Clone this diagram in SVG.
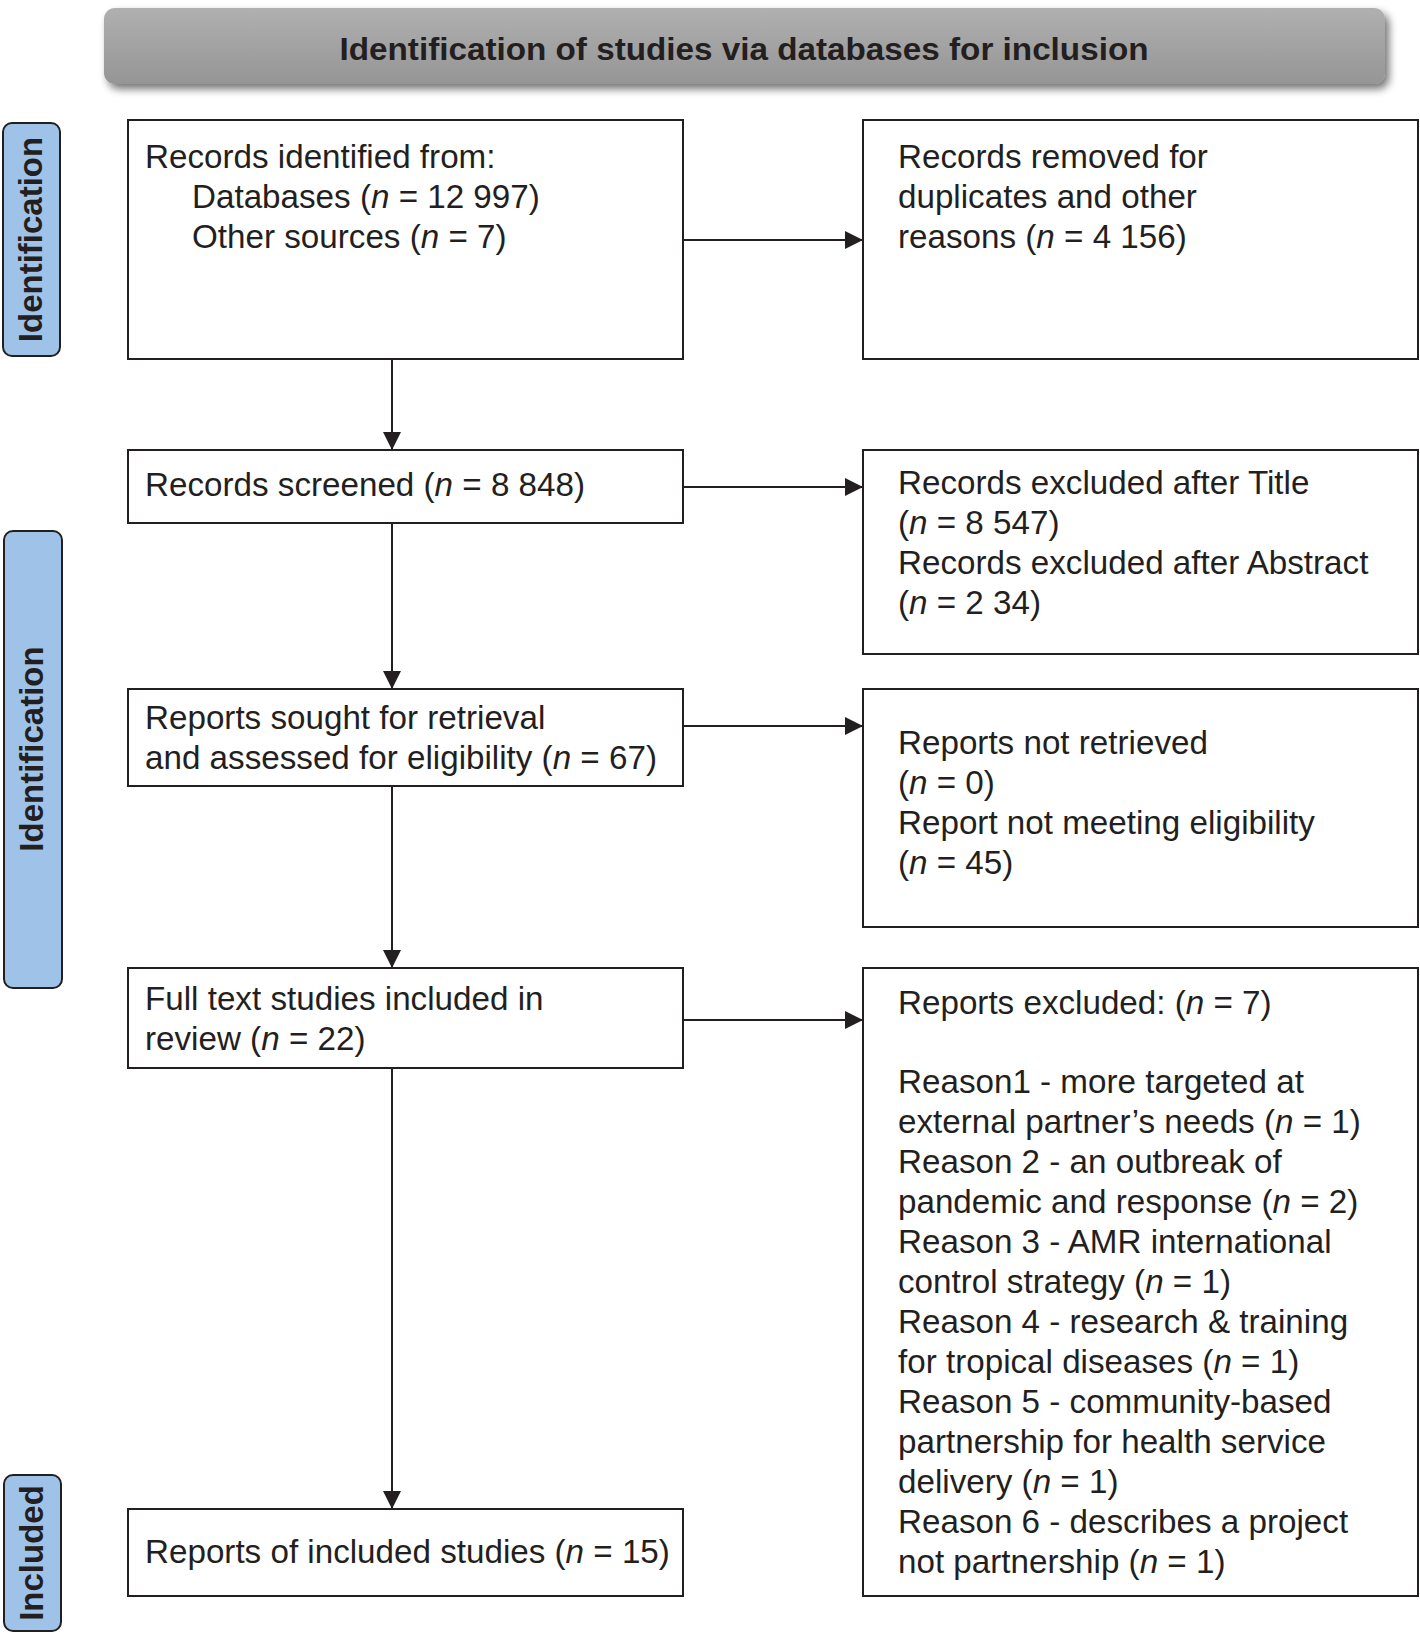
<svg xmlns="http://www.w3.org/2000/svg" width="1420" height="1633" viewBox="0 0 1420 1633">
<defs>
  <linearGradient id="hdrGrad" x1="0" y1="0" x2="0" y2="1">
    <stop offset="0" stop-color="#b0b0b0"/>
    <stop offset="1" stop-color="#959595"/>
  </linearGradient>
  <filter id="shadow" x="-5%" y="-30%" width="110%" height="170%">
    <feGaussianBlur in="SourceAlpha" stdDeviation="4"/>
    <feOffset dx="4" dy="5" result="b"/>
    <feComponentTransfer><feFuncA type="linear" slope="0.55"/></feComponentTransfer>
    <feMerge><feMergeNode/><feMergeNode in="SourceGraphic"/></feMerge>
  </filter>
  <marker id="arrow" markerWidth="18" markerHeight="18" refX="18" refY="9" orient="auto" markerUnits="userSpaceOnUse">
    <path d="M0,0 L18,9 L0,18 Z" fill="#231f20"/>
  </marker>
  <style>
    .box { fill: #ffffff; stroke: #231f20; stroke-width: 2; }
    .side { fill: #9fc3e8; stroke: #231f20; stroke-width: 2; }
    .t { font-family: "Liberation Sans", Arial, sans-serif; font-size: 33.2px; fill: #231f20; }
    .side-t { font-family: "Liberation Sans", Arial, sans-serif; font-size: 33px; font-weight: bold; fill: #231f20; }
    .hdr-t { font-family: "Liberation Sans", Arial, sans-serif; font-size: 31px; font-weight: bold; fill: #231f20; }
    .conn { stroke: #231f20; stroke-width: 2; fill: none; marker-end: url(#arrow); }
    .i { font-style: italic; }
  </style>
</defs>
<rect width="1420" height="1633" fill="#ffffff"/>

<g id="header">
  <rect x="104" y="8" width="1281" height="76" rx="11" fill="url(#hdrGrad)" filter="url(#shadow)"/>
  <text class="hdr-t" x="744" y="60" text-anchor="middle" textLength="809" lengthAdjust="spacingAndGlyphs">Identification of studies via databases for inclusion</text>
</g>

<g id="label-identification-1">
  <rect class="side" x="3" y="123" width="57" height="233" rx="9"/>
  <text class="side-t" transform="translate(42,239.5) rotate(-90)" text-anchor="middle">Identification</text>
</g>
<g id="label-identification-2">
  <rect class="side" x="4" y="531" width="58" height="457" rx="9"/>
  <text class="side-t" transform="translate(43,749) rotate(-90)" text-anchor="middle">Identification</text>
</g>
<g id="label-included">
  <rect class="side" x="4" y="1475" width="57" height="156" rx="9"/>
  <text class="side-t" transform="translate(43,1553) rotate(-90)" text-anchor="middle">Included</text>
</g>

<g id="connectors">
  <line class="conn" x1="392" y1="359" x2="392" y2="450"/>
  <line class="conn" x1="392" y1="523" x2="392" y2="689"/>
  <line class="conn" x1="392" y1="786" x2="392" y2="968"/>
  <line class="conn" x1="392" y1="1068" x2="392" y2="1509"/>
  <line class="conn" x1="683" y1="240" x2="863" y2="240"/>
  <line class="conn" x1="683" y1="487" x2="863" y2="487"/>
  <line class="conn" x1="683" y1="726" x2="863" y2="726"/>
  <line class="conn" x1="683" y1="1020" x2="863" y2="1020"/>
</g>

<g id="records-identified">
  <rect class="box" x="128" y="120" width="555" height="239"/>
  <text class="t" x="145" y="168">Records identified from:</text>
  <text class="t" x="192" y="208">Databases (<tspan class="i">n</tspan> = 12 997)</text>
  <text class="t" x="192" y="248">Other sources (<tspan class="i">n</tspan> = 7)</text>
</g>

<g id="records-removed">
  <rect class="box" x="863" y="120" width="555" height="239"/>
  <text class="t" x="898" y="168">Records removed for</text>
  <text class="t" x="898" y="208">duplicates and other</text>
  <text class="t" x="898" y="248">reasons (<tspan class="i">n</tspan> = 4 156)</text>
</g>

<g id="records-screened">
  <rect class="box" x="128" y="450" width="555" height="73"/>
  <text class="t" x="145" y="496">Records screened (<tspan class="i">n</tspan> = 8 848)</text>
</g>

<g id="records-excluded">
  <rect class="box" x="863" y="450" width="555" height="204"/>
  <text class="t" x="898" y="494">Records excluded after Title</text>
  <text class="t" x="898" y="534">(<tspan class="i">n</tspan> = 8 547)</text>
  <text class="t" x="898" y="574">Records excluded after Abstract</text>
  <text class="t" x="898" y="614">(<tspan class="i">n</tspan> = 2 34)</text>
</g>

<g id="reports-sought">
  <rect class="box" x="128" y="689" width="555" height="97"/>
  <text class="t" x="145" y="729">Reports sought for retrieval</text>
  <text class="t" x="145" y="769">and assessed for eligibility (<tspan class="i">n</tspan> = 67)</text>
</g>

<g id="reports-not-retrieved">
  <rect class="box" x="863" y="689" width="555" height="238"/>
  <text class="t" x="898" y="754">Reports not retrieved</text>
  <text class="t" x="898" y="794">(<tspan class="i">n</tspan> = 0)</text>
  <text class="t" x="898" y="834">Report not meeting eligibility</text>
  <text class="t" x="898" y="874">(<tspan class="i">n</tspan> = 45)</text>
</g>

<g id="full-text-studies">
  <rect class="box" x="128" y="968" width="555" height="100"/>
  <text class="t" x="145" y="1010">Full text studies included in</text>
  <text class="t" x="145" y="1050">review (<tspan class="i">n</tspan> = 22)</text>
</g>

<g id="reports-excluded">
  <rect class="box" x="863" y="968" width="555" height="628"/>
  <text class="t" x="898" y="1014">Reports excluded: (<tspan class="i">n</tspan> = 7)</text>
  <text class="t" x="898" y="1093">Reason1 - more targeted at</text>
  <text class="t" x="898" y="1133">external partner’s needs (<tspan class="i">n</tspan> = 1)</text>
  <text class="t" x="898" y="1173">Reason 2 - an outbreak of</text>
  <text class="t" x="898" y="1213">pandemic and response (<tspan class="i">n</tspan> = 2)</text>
  <text class="t" x="898" y="1253">Reason 3 - AMR international</text>
  <text class="t" x="898" y="1293">control strategy (<tspan class="i">n</tspan> = 1)</text>
  <text class="t" x="898" y="1333">Reason 4 - research &amp; training</text>
  <text class="t" x="898" y="1373">for tropical diseases (<tspan class="i">n</tspan> = 1)</text>
  <text class="t" x="898" y="1413">Reason 5 - community-based</text>
  <text class="t" x="898" y="1453">partnership for health service</text>
  <text class="t" x="898" y="1493">delivery (<tspan class="i">n</tspan> = 1)</text>
  <text class="t" x="898" y="1533">Reason 6 - describes a project</text>
  <text class="t" x="898" y="1573">not partnership (<tspan class="i">n</tspan> = 1)</text>
</g>

<g id="reports-included">
  <rect class="box" x="128" y="1509" width="555" height="87"/>
  <text class="t" x="145" y="1563">Reports of included studies (<tspan class="i">n</tspan> = 15)</text>
</g>
</svg>
